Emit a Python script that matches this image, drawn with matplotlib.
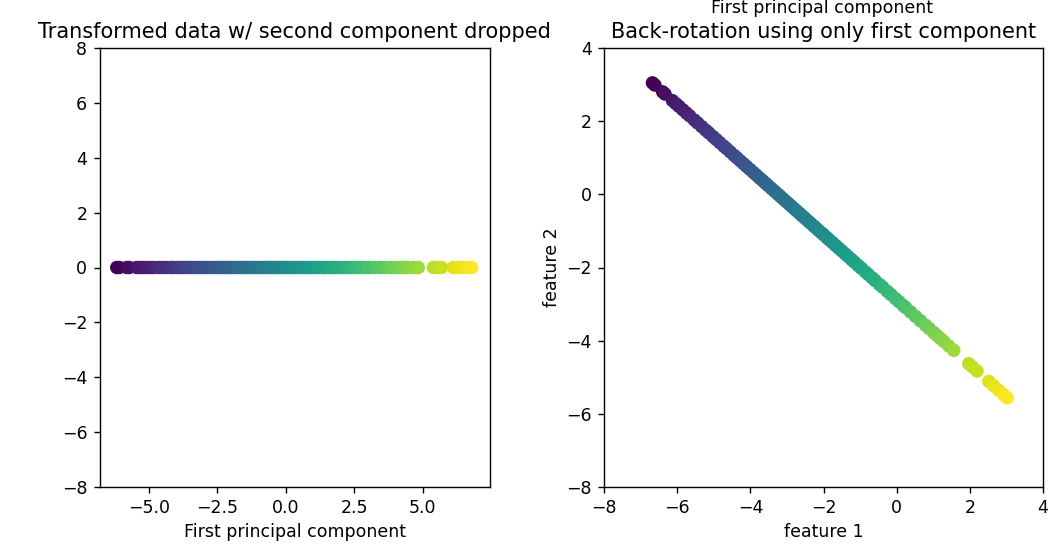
import matplotlib
matplotlib.use("Agg")
import matplotlib.pyplot as plt
import numpy as np

# first principal component of each sample
pc1 = [-6.17, -6.08, -5.80, -5.71, -5.44, -5.31, -5.20, -5.06, -4.93, -4.81,
       -4.64, -4.52, -4.37, -4.22, -4.11, -3.96, -3.84, -3.71, -3.57, -3.46,
       -3.33, -3.19, -3.08, -2.96, -2.84, -2.73, -2.61, -2.49, -2.38, -2.26,
       -2.15, -2.04, -1.95, -1.83, -1.72, -1.61, -1.51, -1.40, -1.30, -1.19,
       -1.10, -0.99, -0.90, -0.79, -0.70, -0.61, -0.49, -0.40, -0.29, -0.21,
       -0.10, 0.01, 0.09, 0.21, 0.30, 0.41, 0.52, 0.63, 0.74, 0.87,
       0.97, 1.10, 1.21, 1.35, 1.46, 1.61, 1.72, 1.86, 1.97, 2.13,
       2.24, 2.41, 2.54, 2.71, 2.84, 3.00, 3.08, 3.26, 3.44, 3.62,
       3.81, 3.94, 4.10, 4.23, 4.35, 4.47, 4.66, 4.84, 5.39, 5.52,
       5.69, 6.12, 6.30, 6.48, 6.66, 6.79]

# PCA model: mean of the data and direction of the first component
pca_mean = [-2.06, -1.05]
pca_component = [0.748, -0.664]

pc1 = np.array(pc1)
back = np.outer(pc1, pca_component) + np.array(pca_mean)

# the reference looks like it was drawn at 1.25x scale
plt.rcParams["font.size"] = 12.5
plt.rcParams["axes.linewidth"] = 1.0
plt.rcParams["xtick.major.size"] = 4.4
plt.rcParams["ytick.major.size"] = 4.4
plt.rcParams["xtick.major.width"] = 1.0
plt.rcParams["ytick.major.width"] = 1.0
plt.rcParams["xtick.major.pad"] = 4.4
plt.rcParams["ytick.major.pad"] = 4.4

fig = plt.figure(figsize=(10.5, 5.47), dpi=100)

# left: transformed data, second component dropped
ax1 = fig.add_axes([99.5 / 1050, 60 / 547, 390.5 / 1050, 439 / 547])
ax1.scatter(pc1, np.zeros(len(pc1)), c=pc1, cmap="viridis", s=94, linewidths=0)
ax1.set_xlim(-6.8, 7.46)
ax1.set_ylim(-8, 8)
ax1.set_xticks([-5.0, -2.5, 0.0, 2.5, 5.0])
ax1.set_title("Transformed data w/ second component dropped", fontsize=15, pad=7)
ax1.set_xlabel("First principal component")

# right: back-rotation using only the first component
ax2 = fig.add_axes([604 / 1050, 60 / 547, 439 / 1050, 439 / 547])
ax2.scatter(back[:, 0], back[:, 1], c=pc1, cmap="viridis", s=94, linewidths=0)
ax2.set_xlim(-8, 4)
ax2.set_ylim(-8, 4)
ax2.set_title("Back-rotation using only first component", fontsize=15, pad=7)
ax2.set_xlabel("feature 1")
ax2.set_ylabel("feature 2")

# x label of the panel above, at the very top edge of the crop
fig.text(822 / 1050, 1 - 12.8 / 547, "First principal component",
         ha="center", va="baseline", fontsize=12.5)

plt.savefig("out.png", dpi=100)
